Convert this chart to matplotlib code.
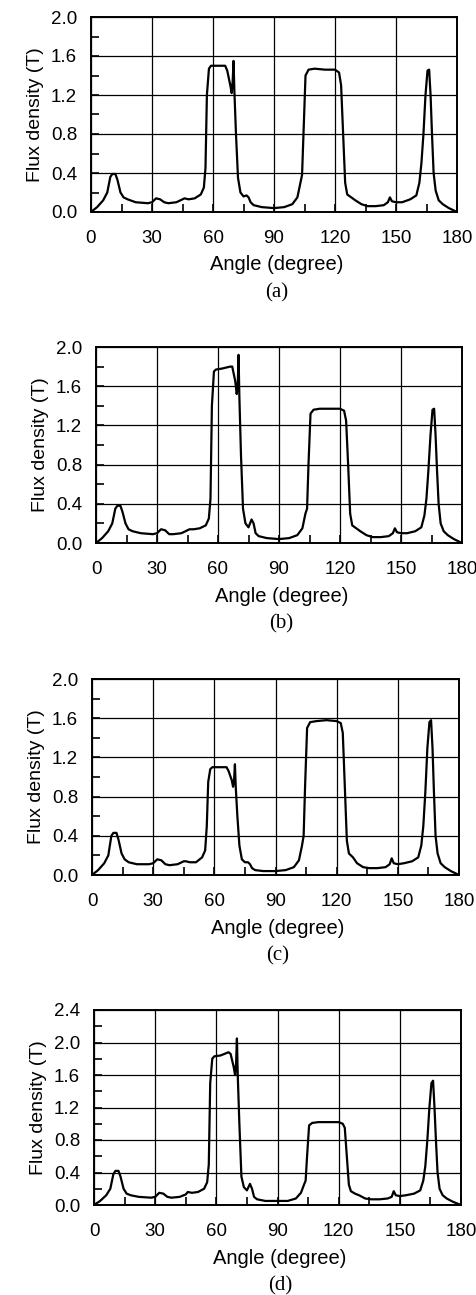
import numpy as np
import matplotlib.pyplot as plt
from matplotlib.ticker import MultipleLocator

# angle grid shared by all four panels (degree)
angle = [0, 3, 6, 8, 9.5, 10.5, 12, 13, 14.5, 16, 18, 22, 28, 30, 32, 34, 36, 38, 42, 45,
         46, 48, 51, 54, 55.5, 56.3, 57, 58, 59, 62, 66, 67, 68.5, 69.2, 69.7, 70.1, 70.5, 71.3, 72.3, 73.5,
         75, 76.5, 77.5, 78.5, 80, 84, 90, 95, 99, 101.5, 103, 103.8, 104.5, 105.5, 107, 110, 115, 120, 122, 123,
         124, 125, 126, 128, 130, 133, 136, 140, 144, 146, 147, 148, 150, 153, 157, 160, 161.5, 162.5, 163.5, 164.5,
         165.5, 166.3, 167, 167.7, 168.5, 169.5, 171, 173, 176, 180]

# flux density (T)
B_a = [0.0, 0.05, 0.12, 0.2, 0.36, 0.39, 0.39, 0.33, 0.2, 0.15, 0.13, 0.1, 0.09, 0.1, 0.14, 0.13, 0.1, 0.09, 0.1, 0.13,
       0.14, 0.13, 0.14, 0.18, 0.25, 0.45, 1.2, 1.47, 1.5, 1.5, 1.5, 1.45, 1.3, 1.22, 1.35, 1.55, 1.25, 0.8, 0.35, 0.2,
       0.16, 0.17, 0.15, 0.1, 0.07, 0.05, 0.04, 0.05, 0.08, 0.15, 0.3, 0.38, 0.8, 1.4, 1.46, 1.47, 1.46, 1.46, 1.43, 1.3,
       0.8, 0.3, 0.18, 0.15, 0.12, 0.08, 0.06, 0.06, 0.07, 0.1, 0.15, 0.11, 0.1, 0.1, 0.13, 0.17, 0.3, 0.5, 0.8, 1.2,
       1.45, 1.46, 1.2, 0.8, 0.4, 0.22, 0.12, 0.08, 0.04, 0.0]

B_b = [0.0, 0.05, 0.12, 0.2, 0.35, 0.38, 0.38, 0.32, 0.2, 0.14, 0.12, 0.1, 0.09, 0.1, 0.14, 0.13, 0.09, 0.09, 0.1, 0.13,
       0.14, 0.14, 0.15, 0.18, 0.25, 0.45, 1.4, 1.75, 1.77, 1.78, 1.8, 1.8, 1.65, 1.52, 1.6, 1.92, 1.5, 0.9, 0.35, 0.2,
       0.16, 0.24, 0.2, 0.1, 0.07, 0.05, 0.04, 0.05, 0.08, 0.15, 0.3, 0.35, 0.8, 1.32, 1.36, 1.37, 1.37, 1.37, 1.35, 1.25,
       0.8, 0.3, 0.18, 0.15, 0.12, 0.08, 0.06, 0.06, 0.07, 0.1, 0.15, 0.11, 0.1, 0.1, 0.12, 0.16, 0.28, 0.45, 0.75, 1.1,
       1.36, 1.37, 1.1, 0.75, 0.4, 0.2, 0.12, 0.08, 0.04, 0.0]

B_c = [0.0, 0.05, 0.12, 0.2, 0.4, 0.43, 0.43, 0.36, 0.22, 0.16, 0.13, 0.11, 0.11, 0.12, 0.16, 0.15, 0.11, 0.1, 0.11, 0.14,
       0.14, 0.13, 0.13, 0.18, 0.25, 0.5, 0.95, 1.08, 1.1, 1.1, 1.1, 1.06, 0.97, 0.9, 0.98, 1.13, 0.9, 0.6, 0.3, 0.16,
       0.13, 0.13, 0.11, 0.07, 0.05, 0.04, 0.04, 0.05, 0.08, 0.15, 0.3, 0.4, 0.9, 1.5, 1.56, 1.57, 1.58, 1.57, 1.55, 1.45,
       0.9, 0.35, 0.22, 0.18, 0.12, 0.08, 0.07, 0.07, 0.08, 0.11, 0.17, 0.12, 0.11, 0.12, 0.14, 0.18, 0.3, 0.5, 0.85, 1.3,
       1.56, 1.58, 1.3, 0.85, 0.4, 0.22, 0.12, 0.08, 0.04, 0.0]

B_d = [0.0, 0.05, 0.12, 0.2, 0.38, 0.42, 0.42, 0.35, 0.2, 0.14, 0.12, 0.1, 0.09, 0.1, 0.15, 0.14, 0.1, 0.09, 0.1, 0.13,
       0.16, 0.15, 0.16, 0.2, 0.28, 0.5, 1.5, 1.8, 1.83, 1.84, 1.88, 1.86, 1.7, 1.6, 1.75, 2.05, 1.6, 1.0, 0.35, 0.22,
       0.18, 0.26, 0.2, 0.1, 0.07, 0.05, 0.05, 0.05, 0.08, 0.15, 0.25, 0.3, 0.6, 0.98, 1.01, 1.02, 1.02, 1.02, 1.0, 0.95,
       0.6, 0.25, 0.17, 0.14, 0.12, 0.08, 0.07, 0.07, 0.08, 0.1, 0.17, 0.12, 0.11, 0.12, 0.14, 0.18, 0.3, 0.48, 0.8, 1.2,
       1.5, 1.53, 1.2, 0.8, 0.4, 0.2, 0.12, 0.08, 0.04, 0.0]

panels = [B_a, B_b, B_c, B_d]
captions = ["(a)", "(b)", "(c)", "(d)"]
ymaxes = [2.0, 2.0, 2.0, 2.4]
# axes boxes in pixels: left, right, top, bottom
boxes = [(91, 457, 17, 212), (96, 462, 347, 543), (92, 459, 679, 875), (94, 461, 1010, 1205)]

W, H = 476, 1295
plt.rcParams['font.family'] = ['Liberation Sans', 'DejaVu Sans']
fig = plt.figure(figsize=(W / 100, H / 100), dpi=100)

for B, cap, ymax, (l, r, t, b) in zip(panels, captions, ymaxes, boxes):
    ax = fig.add_axes([l / W, 1 - b / H, (r - l) / W, (b - t) / H])
    ax.plot(angle, B, color='black', lw=1.6)
    ax.set_xlim(0, 180)
    ax.set_ylim(0, ymax)
    ax.xaxis.set_major_locator(MultipleLocator(30))
    ax.xaxis.set_minor_locator(MultipleLocator(15))
    ax.yaxis.set_major_locator(MultipleLocator(0.4))
    ax.yaxis.set_minor_locator(MultipleLocator(0.2))
    ax.yaxis.set_major_formatter(plt.FormatStrFormatter('%.1f'))
    ax.grid(True, which='major', color='black', lw=0.9)
    ax.tick_params(which='both', direction='in', length=6, width=1.2, labelsize=13.5)
    ax.tick_params(axis='x', pad=13)
    ax.tick_params(axis='y', pad=10)
    for s in ax.spines.values():
        s.set_linewidth(1.4)
    ax.set_ylabel("Flux density (T)", fontsize=14, labelpad=5)
    fig.text((l + r) / 2 / W + 0.005, 1 - (b + 53) / H, "Angle (degree)", ha='center', va='center', fontsize=14.5)
    fig.text((l + r) / 2 / W + 0.005, 1 - (b + 81) / H, cap, ha='center', va='center', fontsize=15,
             family='Liberation Serif')

fig.savefig("out.png", dpi=100)
